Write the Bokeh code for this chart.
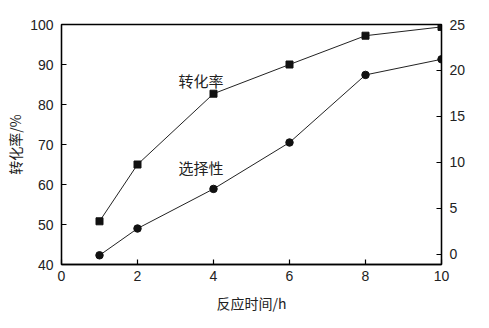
from bokeh.plotting import figure
from bokeh.models import LinearAxis, Range1d, FixedTicker, Label
from bokeh.embed import file_html
from bokeh.resources import INLINE

time_h = [1, 2, 4, 6, 8, 10]
conversion = [50.8, 65.0, 82.7, 90.0, 97.2, 99.4]
selectivity = [42.3, 49.0, 58.9, 70.5, 87.4, 91.3]
x_ticks = [0, 2, 4, 6, 8, 10]
left_ticks = [40, 50, 60, 70, 80, 90, 100]
right_ticks = [0, 5, 10, 15, 20, 25]

NUM_FONT = "Liberation Sans"
CJK_FONT = "Noto Sans CJK SC"

p = figure(width=489, height=328, output_backend="svg", toolbar_location=None,
           x_range=Range1d(0, 10), y_range=Range1d(40, 100),
           min_border_left=61, min_border_right=48, min_border_top=24, min_border_bottom=64)
p.extra_y_ranges = {"right": Range1d(-1.09, 25)}
p.grid.visible = False
p.outline_line_color = "black"
p.outline_line_width = 1.3
p.background_fill_color = "white"
p.border_fill_color = "white"

for ax in [p.xaxis[0], p.yaxis[0]]:
    ax.axis_line_color = "black"
    ax.axis_line_width = 1.3
    ax.major_tick_in = 5
    ax.major_tick_out = 0
    ax.minor_tick_line_color = None
    ax.major_tick_line_width = 1.2
    ax.major_label_text_font = NUM_FONT
    ax.major_label_text_font_size = "14px"
    ax.major_label_text_color = "#222222"
    ax.axis_label_text_font = CJK_FONT
    ax.axis_label_text_font_size = "14px"
    ax.axis_label_text_font_style = "normal"
    ax.axis_label_text_color = "#222222"

p.xaxis[0].ticker = FixedTicker(ticks=x_ticks)
p.yaxis[0].ticker = FixedTicker(ticks=left_ticks)
p.xaxis[0].major_label_standoff = 6
p.yaxis[0].major_label_standoff = 8
p.xaxis[0].axis_label = "反应时间/h"
p.yaxis[0].axis_label = "转化率/%"
p.xaxis[0].axis_label_standoff = 9
p.yaxis[0].axis_label_standoff = 2

rax = LinearAxis(y_range_name="right", ticker=FixedTicker(ticks=right_ticks))
rax.axis_line_color = "black"
rax.axis_line_width = 1.3
rax.major_tick_in = 5
rax.major_tick_out = 0
rax.major_tick_line_width = 1.2
rax.minor_tick_line_color = None
rax.major_label_text_font = NUM_FONT
rax.major_label_text_font_size = "14px"
rax.major_label_text_color = "#222222"
rax.major_label_standoff = 8
p.add_layout(rax, "right")

p.line(time_h, conversion, line_color="#222222", line_width=1)
p.scatter(time_h, conversion, marker="square", size=7, fill_color="#111111", line_color="#111111")
p.line(time_h, selectivity, line_color="#222222", line_width=1)
p.scatter(time_h, selectivity, marker="circle", size=7.5, fill_color="#111111", line_color="#111111")

p.add_layout(Label(x=3.08, y=85.9, text="转化率", text_font=CJK_FONT, text_font_size="15px",
                   text_color="#222222", text_baseline="middle"))
p.add_layout(Label(x=3.08, y=64.2, text="选择性", text_font=CJK_FONT, text_font_size="15px",
                   text_color="#222222", text_baseline="middle"))

open("out.html", "w").write(file_html(p, INLINE))
